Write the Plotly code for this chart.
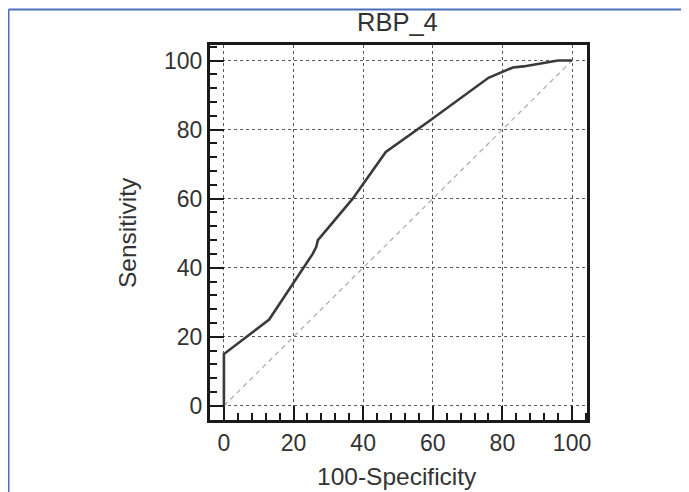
import plotly.graph_objects as go

# ROC curve for RBP_4
fpr = [0, 0, 13, 25.5, 26.5, 27, 37, 46.5, 59, 76, 83, 86, 96, 100]
tpr = [0, 15, 25, 44, 46, 48, 60, 73.5, 82.5, 95, 98, 98.3, 100, 100]
ref_x = [0, 100]
ref_y = [0, 100]
tick_vals = [0, 20, 40, 60, 80, 100]
tick_text = ["0", "20", "40", "60", "80", "100"]

W, H = 689, 492
OFF = 8  # default page body margin shifts the figure by 8px
L, T = 210 - OFF, 45 - OFF
pw, ph = 377, 375
R, B = W - L - pw, H - T - ph

def px(x):
    return (x - OFF - L) / pw

def py(y):
    return 1 - (y - OFF - T) / ph

fig = go.Figure()
fig.add_trace(go.Scatter(x=ref_x, y=ref_y, mode="lines",
                         line=dict(color="#b0b0b0", width=1.3, dash="5px,4px"),
                         hoverinfo="skip", showlegend=False))
fig.add_trace(go.Scatter(x=fpr, y=tpr, mode="lines",
                         line=dict(color="#3a3a3a", width=2.6),
                         showlegend=False))

font = "Liberation Sans, Arial, sans-serif"
axis_common = dict(
    automargin=False,
    showline=True, linecolor="#1a1a1a", linewidth=3, mirror=True,
    showgrid=True, gridcolor="#5a5a5a", gridwidth=1, griddash="3px,3px",
    zeroline=False,
    tickmode="array", tickvals=tick_vals, ticktext=tick_text,
    ticks="inside", ticklen=14, tickwidth=2, tickcolor="#1a1a1a",
    tickfont=dict(family=font, size=23, color="#333333"),
    minor=dict(ticks="inside", ticklen=7, tickwidth=1.5, tickcolor="#1a1a1a",
               dtick=4, tick0=0, showgrid=False),
)

fig.update_xaxes(range=[-4, 104.3], **axis_common)
fig.update_yaxes(range=[-4.1, 104.5], **axis_common)

fig.update_layout(
    width=W, height=H,
    margin=dict(l=L, r=R, t=T, b=B, autoexpand=False),
    paper_bgcolor="white", plot_bgcolor="white",
    annotations=[
        dict(text="RBP_4", xref="paper", yref="paper", x=px(397.5), y=py(21.5),
             xanchor="center", yanchor="middle", showarrow=False,
             font=dict(family=font, size=25.5, color="#333333")),
        dict(text="100-Specificity", xref="paper", yref="paper", x=px(397), y=py(476),
             xanchor="center", yanchor="middle", showarrow=False,
             font=dict(family=font, size=24.5, color="#333333")),
        dict(text="Sensitivity", xref="paper", yref="paper", x=px(127), y=py(233),
             xanchor="center", yanchor="middle", showarrow=False, textangle=-90,
             font=dict(family=font, size=24.5, color="#333333")),
    ],
    shapes=[
        dict(type="line", xref="paper", yref="paper",
             x0=px(8.5), x1=px(700), y0=py(9.5), y1=py(9.5),
             line=dict(color="#4a70bd", width=2)),
        dict(type="line", xref="paper", yref="paper",
             x0=px(8.5), x1=px(8.5), y0=py(9.5), y1=py(500),
             line=dict(color="#4a70bd", width=2)),
    ],
)

fig.write_html("out.html")
